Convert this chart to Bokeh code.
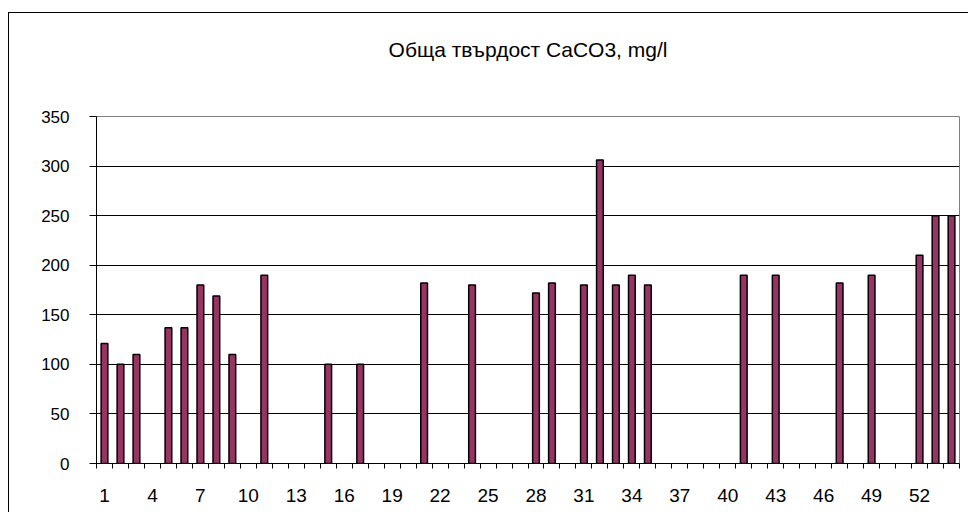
from bokeh.plotting import figure
from bokeh.models import Range1d, FixedTicker, ColumnDataSource, LinearAxis
from bokeh.embed import file_html
from bokeh.resources import INLINE

title_text = "Обща твърдост CaCO3, mg/l"

categories = list(range(1, 55))
values = [121, 100, 110, None, 137, 137, 180, 169, 110, None,
          190, None, None, None, 100, None, 100, None, None, None,
          182, None, None, 180, None, None, None, 172, 182, None,
          180, 306, 180, 190, 180, None, None, None, None, None,
          190, None, 190, None, None, None, 182, None, 190, None,
          None, 210, 250, 250]
x_tick_labels = [1, 4, 7, 10, 13, 16, 19, 22, 25, 28, 31, 34, 37, 40, 43, 46, 49, 52]
y_ticks = [0, 50, 100, 150, 200, 250, 300, 350]

xs = [c for c, v in zip(categories, values) if v is not None]
tops = [v for v in values if v is not None]
src = ColumnDataSource(data=dict(x=xs, top=tops))

x_start = categories[0] - 0.5
x_end = categories[-1] + 0.5

p = figure(width=960, height=500, output_backend="svg", toolbar_location=None,
           x_range=Range1d(x_start, x_end),
           y_range=Range1d(y_ticks[0], y_ticks[-1]),
           min_border_left=87, min_border_right=10, min_border_top=103, min_border_bottom=50)
p.styles = {"border-left": "1px solid #000000", "border-top": "1px solid #000000",
            "margin-left": "8px", "margin-top": "12px"}
p.background_fill_color = "white"
p.border_fill_color = "white"
p.outline_line_color = "#808080"
p.outline_line_width = 1
p.title.visible = False

# chart title as the label of a bare axis above the plot area,
# centred over the whole chart box rather than the plot area
title_axis = LinearAxis(ticker=FixedTicker(ticks=[]), axis_label=title_text,
                        bounds=(x_start, x_end - 3.44),
                        axis_line_color=None, major_tick_line_color=None,
                        minor_tick_line_color=None, major_tick_out=0, major_tick_in=0,
                        major_label_standoff=0, axis_label_standoff=56,
                        axis_label_text_font="Liberation Sans",
                        axis_label_text_font_size="21px",
                        axis_label_text_font_style="normal",
                        axis_label_text_color="#000000")
p.add_layout(title_axis, "above")

p.vbar(x="x", top="top", bottom=0, width=0.42, source=src,
       fill_color="#993366", line_color="#000000", line_width=1.5)

# y axis
p.yaxis.ticker = FixedTicker(ticks=y_ticks)
p.yaxis.axis_line_color = "#000000"
p.yaxis.major_tick_out = 7
p.yaxis.major_tick_in = 0
p.yaxis.minor_tick_line_color = None
p.yaxis.major_label_standoff = 20
p.yaxis.major_label_text_font = "Liberation Sans"
p.yaxis.major_label_text_font_size = "17px"
p.yaxis.major_label_text_color = "#000000"

# x axis
xa = p.below[0]
boundaries = [c - 0.5 for c in categories] + [x_end]
xa.ticker = FixedTicker(ticks=x_tick_labels, minor_ticks=boundaries)
xa.axis_line_color = "#000000"
xa.major_tick_line_color = None
xa.major_tick_out = 5
xa.major_tick_in = 0
xa.minor_tick_out = 5
xa.minor_tick_in = 0
xa.minor_tick_line_color = "#000000"
xa.major_label_standoff = 20
xa.major_label_text_font = "Liberation Sans"
xa.major_label_text_font_size = "19px"
xa.major_label_text_color = "#000000"

p.xgrid.grid_line_color = None
p.ygrid.ticker = FixedTicker(ticks=y_ticks[1:-1])
p.ygrid.grid_line_color = "#000000"
p.ygrid.grid_line_width = 1

open("out.html", "w").write(file_html(p, INLINE))
